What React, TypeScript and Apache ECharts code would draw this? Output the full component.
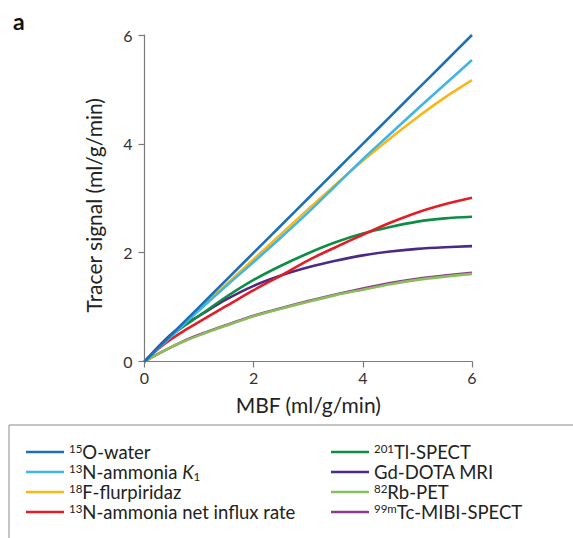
import React, { useEffect, useRef } from "react";
import * as echarts from "echarts";

// MBF (ml/g/min) sample positions
const mbf = [0, 0.25, 0.5, 0.75, 1, 1.5, 2, 2.5, 3, 3.5, 4, 4.5, 5, 5.5, 6];

// Tracer signal (ml/g/min)
const water15O = [0, 0.25, 0.5, 0.75, 1, 1.5, 2, 2.5, 3, 3.5, 4, 4.5, 5, 5.5, 6];
const ammoniaK1 = [0, 0.24, 0.47, 0.71, 0.94, 1.39, 1.83, 2.28, 2.74, 3.23, 3.72, 4.18, 4.64, 5.09, 5.54];
const flurpiridaz = [0, 0.24, 0.48, 0.72, 0.95, 1.42, 1.88, 2.34, 2.8, 3.25, 3.69, 4.1, 4.49, 4.85, 5.17];
const ammoniaNet = [0, 0.23, 0.42, 0.58, 0.73, 1.02, 1.31, 1.58, 1.86, 2.1, 2.33, 2.55, 2.74, 2.89, 3.01];
const tlSpect = [0, 0.25, 0.48, 0.67, 0.84, 1.19, 1.5, 1.76, 1.99, 2.19, 2.35, 2.47, 2.57, 2.63, 2.66];
const gdDota = [0, 0.27, 0.51, 0.69, 0.84, 1.14, 1.39, 1.58, 1.73, 1.85, 1.95, 2.02, 2.07, 2.1, 2.12];
const rbPet = [0, 0.14, 0.27, 0.38, 0.48, 0.66, 0.83, 0.97, 1.1, 1.22, 1.32, 1.42, 1.5, 1.56, 1.61];
const mibi = [0, 0.14, 0.27, 0.39, 0.49, 0.67, 0.84, 0.98, 1.11, 1.23, 1.34, 1.44, 1.52, 1.58, 1.63];

const axisTicks = [0, 2, 4, 6];

const names = {
  water: "15O-water",
  k1: "13N-ammonia K1",
  flur: "18F-flurpiridaz",
  net: "13N-ammonia net influx rate",
  tl: "201Tl-SPECT",
  gd: "Gd-DOTA MRI",
  rb: "82Rb-PET",
  mibi: "99mTc-MIBI-SPECT",
};

const richLabel: Record<string, string> = {
  [names.water]: "{sup|15}{t|O-water}",
  [names.k1]: "{sup|13}{t|N-ammonia }{it|K}{sub|1}",
  [names.flur]: "{sup|18}{t|F-flurpiridaz}",
  [names.net]: "{sup|13}{t|N-ammonia net influx rate}",
  [names.tl]: "{sup|201}{t|Tl-SPECT}",
  [names.gd]: "{t|Gd-DOTA MRI}",
  [names.rb]: "{sup|82}{t|Rb-PET}",
  [names.mibi]: "{sup|99m}{t|Tc-MIBI-SPECT}",
};

const FONT = "Lato, 'Noto Sans', sans-serif";

export default function App() {
  const ref = useRef<HTMLDivElement>(null);

  useEffect(() => {
    if (!ref.current) return;
    const chart = echarts.init(ref.current, undefined, { renderer: "svg" });
    const pairs = (ys: number[]) => mbf.map((x, i) => [x, ys[i]]);
    const mk = (name: string, ys: number[], color: string) => ({
      type: "line",
      name,
      data: pairs(ys),
      smooth: 0.3,
      symbol: "none",
      showSymbol: false,
      lineStyle: { color, width: 2.6 },
      itemStyle: { color },
      emphasis: { disabled: true },
    });

    const richStyles = {
      t: { fontSize: 18.5, lineHeight: 20, fontFamily: FONT, color: "#222" },
      it: { fontSize: 18.5, lineHeight: 20, fontFamily: FONT, color: "#222", fontStyle: "italic" },
      sup: { fontSize: 11.5, lineHeight: 11, fontFamily: FONT, color: "#222", verticalAlign: "top" },
      sub: { fontSize: 11.5, lineHeight: 11, fontFamily: FONT, color: "#222", verticalAlign: "bottom" },
    };
    const legendBase = {
      orient: "vertical",
      top: 437,
      icon: "rect",
      itemWidth: 38,
      itemHeight: 2.6,
      itemGap: 0,
      selectedMode: false,
      formatter: (n: string) => richLabel[n] || n,
      textStyle: { fontSize: 18.5, lineHeight: 20, fontFamily: FONT, color: "#222", rich: richStyles },
    };

    chart.setOption({
      animation: false,
      backgroundColor: "#fff",
      textStyle: { fontFamily: FONT },
      grid: { left: 144.5, right: 101, top: 35, bottom: 176.5, containLabel: false },
      xAxis: {
        type: "value",
        min: axisTicks[0],
        max: axisTicks[axisTicks.length - 1],
        interval: 2,
        name: "MBF (ml/g/min)",
        nameLocation: "middle",
        nameGap: 32,
        nameTextStyle: { fontSize: 21, color: "#222", fontFamily: FONT },
        axisLine: { show: true, lineStyle: { color: "#7a7a7a", width: 1.2 } },
        axisTick: { show: true, length: 6, lineStyle: { color: "#7a7a7a", width: 1.2 } },
        axisLabel: { fontSize: 16, color: "#333", margin: 8, fontFamily: FONT },
        splitLine: { show: false },
      },
      yAxis: {
        type: "value",
        min: axisTicks[0],
        max: axisTicks[axisTicks.length - 1],
        interval: 2,
        name: "Tracer signal (ml/g/min)",
        nameLocation: "middle",
        nameGap: 41,
        nameTextStyle: { fontSize: 21, color: "#222", fontFamily: FONT, padding: [0, 14, 0, 0] },
        axisLine: { show: true, lineStyle: { color: "#7a7a7a", width: 1.2 } },
        axisTick: { show: true, length: 6, lineStyle: { color: "#7a7a7a", width: 1.2 } },
        axisLabel: { fontSize: 16, color: "#333", margin: 12, fontFamily: FONT },
        splitLine: { show: false },
      },
      legend: [
        { ...legendBase, left: 21, data: [names.water, names.k1, names.flur, names.net] },
        { ...legendBase, left: 326, data: [names.tl, names.gd, names.rb, names.mibi] },
      ],
      graphic: [
        {
          type: "text",
          left: 13,
          top: 9,
          style: { text: "a", font: `bold 23px ${FONT}`, fill: "#111" },
        },
        {
          type: "rect",
          shape: { x: 9, y: 425, width: 620, height: 200 },
          style: { fill: "none", stroke: "#8a8a8a", lineWidth: 1 },
          silent: true,
        },
      ],
      series: [
        mk(names.mibi, mibi, "#8e3b8f"),
        mk(names.rb, rbPet, "#8cbd5c"),
        mk(names.gd, gdDota, "#4b2a86"),
        mk(names.tl, tlSpect, "#0e8d45"),
        mk(names.net, ammoniaNet, "#e31d25"),
        mk(names.flur, flurpiridaz, "#f8b719"),
        mk(names.k1, ammoniaK1, "#40b6e2"),
        mk(names.water, water15O, "#1c70b6"),
      ],
    });
    return () => chart.dispose();
  }, []);

  return (
    <div
      ref={ref}
      style={{ position: "fixed", left: 0, top: 0, width: 573, height: 538, background: "#fff" }}
    />
  );
}
